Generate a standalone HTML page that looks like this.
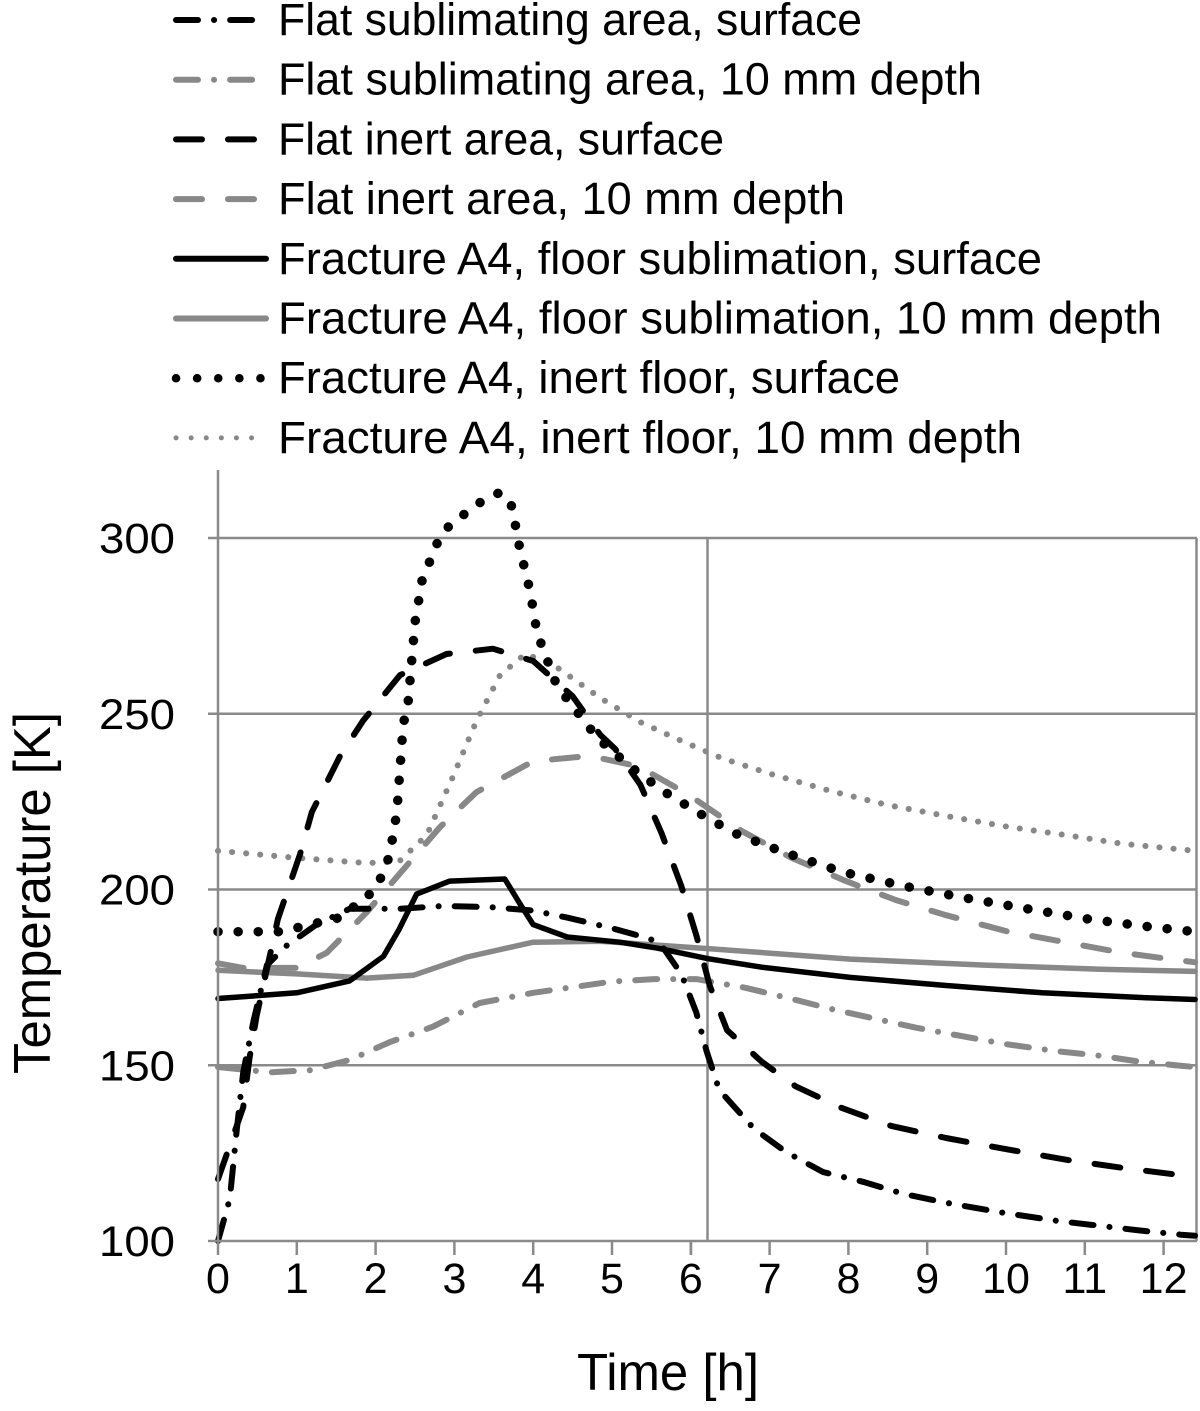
<!DOCTYPE html>
<html><head><meta charset="utf-8"><style>
html,body{margin:0;padding:0;background:#fff;}
svg{display:block;font-family:"Liberation Sans",Arial,sans-serif;}
</style></head><body>
<svg id="chart" width="1200" height="1411" viewBox="0 0 1200 1411" xmlns="http://www.w3.org/2000/svg">
<g id="grid"></g>
<g id="series"></g>
<g id="legend"></g>
<g id="axes"></g>
</svg>
<script>
const xTicks = [0,1,2,3,4,5,6,7,8,9,10,11,12];
const yTicks = [100,150,200,250,300];
const seriesNames = ["Flat sublimating area, surface","Flat sublimating area, 10 mm depth","Flat inert area, surface","Flat inert area, 10 mm depth","Fracture A4, floor sublimation, surface","Fracture A4, floor sublimation, 10 mm depth","Fracture A4, inert floor, surface","Fracture A4, inert floor, 10 mm depth"];

const fsSurfT = [0,0.15,0.24,0.32,0.45,0.62,0.87,1.25,1.67,2.3,2.86,3.45,4.0,4.43,5.0,5.4,5.6,5.88,6.07,6.2,6.36,6.8,7.21,7.68,8.19,8.7,9.21,9.92,10.66,11.2,11.7,12.22,12.4];
const fsSurfK = [100,112,132,148,162.6,178.5,184,190,194.5,194.5,195.3,195,194,192,189,186.5,185,176,165,154,143,132,125.3,119.6,116.8,113.4,111,108.2,105.7,104.3,103,101.8,101.5];
const fs10T = [0,0.66,1.17,1.67,2.18,2.73,3.32,4.0,5.0,5.53,6.07,6.7,7.31,7.82,8.85,10.0,10.68,11.2,11.7,12.25,12.4];
const fs10K = [149.5,148,148.6,151.5,156.6,161,167.7,170.6,173.8,174.5,174.5,172,168.7,165.8,160.7,156,153.9,152.7,151,149.8,149.5];
const fiSurfT = [0,0.32,0.4,0.49,0.76,1.04,1.19,1.55,1.84,2.31,2.9,3.49,4.0,4.5,4.85,5.04,5.36,5.63,5.88,6.07,6.24,6.46,6.9,7.33,7.92,8.55,9.24,10.03,10.8,11.48,12.12,12.4];
const fiSurfK = [117.6,138,152,164,191.6,210,222,238,248,261,267,268.5,265,255,244,240,229.8,216,201,187,172.7,160,151,144,137.8,132.7,129.3,126,123,120.8,119,118.5];
const fi10T = [0,0.32,1.0,1.38,1.89,2.31,2.82,3.28,4.0,4.72,5.34,5.97,6.65,7.28,7.97,8.6,9.24,10.03,10.8,11.48,12.15,12.4];
const fi10K = [179,177.7,177.7,182,193.6,204.6,217.8,227.7,236.5,238,235,227,216.6,209,202.4,197,192.7,188,184.8,182,180,179.3];
const frSubSurfT = [0,1,1.67,2.1,2.3,2.52,2.94,3.64,3.83,4.0,4.43,5.1,5.58,6.22,6.9,8.02,9.24,10.46,11.68,12.4];
const frSubSurfK = [169,170.6,174,181,188.7,198.7,202.4,203,196,190,186.5,185,183.3,180.3,177.9,175,172.7,170.6,169.3,168.7];
const frSub10T = [0,1,1.89,2.48,3.16,4.0,4.85,6.22,8.02,9.73,11.2,12.4];
const frSub10K = [177,176,174.8,175.6,180.8,185,185.3,183.2,180.2,178.5,177.3,176.7];
const frInSurfT = [0,0.79,1.55,1.97,2.1,2.18,2.27,2.35,2.41,2.5,2.59,2.79,2.94,3.35,3.58,3.73,3.83,3.96,4.05,4.3,4.82,5.21,5.65,6.1,6.56,7.17,7.92,8.7,9.48,10.27,11.04,11.85,12.4];
const frInSurfK = [188,188,192,199.5,204.7,210,222,247,252.5,276,288,299,303.7,310.5,313,309,297,285,273,258,243,235.4,228,221.8,216,210.7,205,201,197.6,194.5,191.6,189.3,188];
const frIn10T = [0,1.0,1.89,2.3,2.65,2.98,3.28,3.58,3.9,4.25,4.85,5.36,5.87,6.4,7.04,7.78,8.5,9.29,10.03,10.75,11.48,12.27,12.4];
const frIn10K = [211,209,207.5,208,215.5,232,248,261,267,264,254.5,247.6,242.4,237.3,232.7,228,224,220.7,217.8,215.5,213,211.3,211];

const NS = "http://www.w3.org/2000/svg";
const X0 = 218, PXH = 78.8, Y0 = 1241, PXK = 3.515;
function xs(t){ return X0 + t*PXH; }
function ys(k){ return Y0 - (k-100)*PXK; }
function mk(tag, attrs, parent){
  const e = document.createElementNS(NS, tag);
  for (const k in attrs) e.setAttribute(k, attrs[k]);
  parent.appendChild(e); return e;
}
const grid = document.getElementById('grid');
const axes = document.getElementById('axes');
const GC = "#8a8a8a";
yTicks.forEach(v => {
  if (v === 100) return;
  const l = mk('line', {x1:X0, x2:1197, y1:ys(v), y2:ys(v), stroke:GC, 'stroke-width':2.5}, grid);
  
  
});
const vg = mk('line', {x1:707.5, x2:707.5, y1:ys(300), y2:Y0, stroke:GC, 'stroke-width':2.5}, grid);


const rb = mk('line', {x1:1196.5, x2:1196.5, y1:ys(300), y2:Y0, stroke:GC, 'stroke-width':2.5}, grid);


const ya = mk('line', {x1:X0, x2:X0, y1:470, y2:Y0+1, stroke:GC, 'stroke-width':2.5}, axes);


const xa = mk('line', {x1:X0-1, x2:1197, y1:Y0, y2:Y0, stroke:GC, 'stroke-width':2.5}, axes);


yTicks.forEach(v => {
  const t = mk('line', {x1:X0-10, x2:X0, y1:ys(v), y2:ys(v), stroke:GC, 'stroke-width':2.5}, axes);
  
  
  const lb = mk('text', {x:175, y:ys(v)+15, 'text-anchor':'end', 'font-size':43, fill:'#000', textLength:76, lengthAdjust:'spacingAndGlyphs'}, axes);
  lb.textContent = v;
  
  
});
xTicks.forEach(v => {
  const t = mk('line', {x1:xs(v), x2:xs(v), y1:Y0, y2:Y0+14, stroke:GC, 'stroke-width':2.5}, axes);
  
  
  const lb = mk('text', {x:xs(v), y:1293, 'text-anchor':'middle', 'font-size':43, fill:'#000'}, axes);
  lb.textContent = v;
  
  
});
const ext = mk('line', {x1:691, x2:691, y1:Y0, y2:Y0+14, stroke:GC, 'stroke-width':2.5}, axes);


const xt = mk('text', {x:668, y:1390, 'text-anchor':'middle', 'font-size':52, fill:'#000', textLength:182, lengthAdjust:'spacingAndGlyphs'}, axes);
xt.textContent = "Time [h]";


const yt = mk('text', {x:0, y:0, 'text-anchor':'middle', 'font-size':52, fill:'#000', transform:'translate(50,893) rotate(-90)', textLength:362, lengthAdjust:'spacingAndGlyphs'}, axes);
yt.textContent = "Temperature [K]";



const BLK = "#000", GRY = "#888";
const styles = [
  {c:BLK, w:6, d:"22 16 0.1 16"},
  {c:GRY, w:6, d:"22 16 0.1 16"},
  {c:BLK, w:6, d:"26 26"},
  {c:GRY, w:6, d:"26 26"},
  {c:BLK, w:5.5, d:""},
  {c:GRY, w:5.5, d:""},
  {c:BLK, w:9.5, d:"0.1 20"},
  {c:GRY, w:6, d:"0.1 14"}
];
const data = [[fsSurfT,fsSurfK],[fs10T,fs10K],[fiSurfT,fiSurfK],[fi10T,fi10K],[frSubSurfT,frSubSurfK],[frSub10T,frSub10K],[frInSurfT,frInSurfK],[frIn10T,frIn10K]];
const ids = ['flat-sublimating-surface','flat-sublimating-10mm','flat-inert-surface','flat-inert-10mm','fracture-sublimation-surface','fracture-sublimation-10mm','fracture-inert-surface','fracture-inert-10mm'];
const order = [1,3,5,7,0,2,4,6];
const sg = document.getElementById('series');
order.forEach(i => {
  const [T,K] = data[i];
  const pts = T.map((t,j) => xs(t).toFixed(1) + ',' + ys(K[j]).toFixed(1)).join(' ');
  const s = styles[i];
  const a = {points:pts, fill:'none', stroke:s.c, 'stroke-width':s.w, 'stroke-linecap':'round', 'stroke-linejoin':'round'};
  if (s.d) a['stroke-dasharray'] = s.d;
  const p = mk('polyline', a, sg);
  
  
});

const lg = document.getElementById('legend');
const legendEnds = [862,982,724,845,1042,1162,900,1022];
const legendDash = ["22 16 0.1 16","22 16 0.1 16","26 26","26 26","","","0.1 21","0.1 15"];
seriesNames.forEach((n,i) => {
  const y = 20 + i*59.7;
  const s = styles[i];
  const a = {x1:176, x2:266, y1:y, y2:y, stroke:s.c, 'stroke-width':(i===6?8.5:(i===7?5:6)), 'stroke-linecap':'round'};
  if (legendDash[i]) a['stroke-dasharray'] = legendDash[i];
  const l = mk('line', a, lg);
  
  
  const t = mk('text', {x:278, y:y+15, 'font-size':45, fill:'#000', textLength:legendEnds[i]-278, lengthAdjust:'spacingAndGlyphs'}, lg);
  t.textContent = n;
  
  
});
</script>
</body></html>
